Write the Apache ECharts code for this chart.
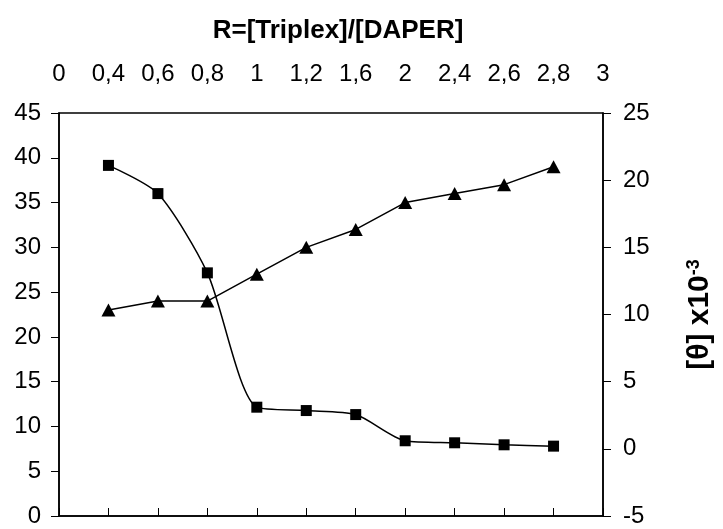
<!DOCTYPE html>
<html>
<head>
<meta charset="utf-8">
<script src="https://cdn.jsdelivr.net/npm/echarts@6/dist/echarts.min.js"></script>
<style>
html,body{margin:0;padding:0;background:#fff;}
#chart{width:723px;height:529px;}
</style>
</head>
<body>
<div id="chart"></div>
<script>
// Category labels of the top axis (ratio R)
const categories = ['0', '0,4', '0,6', '0,8', '1', '1,2', '1,6', '2', '2,4', '2,6', '2,8', '3'];
// Triangle series (left axis)
const triangleValues = [null, 23, 24, 24, 27, 30, 32, 35, 36, 37, 39, null];
// Square series (right axis, [θ] x10^-3)
const squareValues = [null, 21.1, 19.0, 13.1, 3.1, 2.85, 2.55, 0.6, 0.45, 0.3, 0.2, null];

const FONT = "'Liberation Sans', Arial, sans-serif";
const chart = echarts.init(document.getElementById('chart'), null, {renderer: 'canvas'});

const axisLineStyle = {color: '#000', width: 1.5};

chart.setOption({
  animation: false,
  backgroundColor: '#fff',
  title: {
    text: 'R=[Triplex]/[DAPER]',
    left: 333,
    textAlign: 'center',
    top: 13,
    textStyle: {fontFamily: FONT, fontWeight: 'bold', fontSize: 26, color: '#000'}
  },
  grid: {
    left: 59, right: 115, top: 113, bottom: 13,
    show: true, borderColor: '#000', borderWidth: 1.5, backgroundColor: 'transparent'
  },
  xAxis: {
    type: 'category',
    position: 'top',
    boundaryGap: false,
    data: categories,
    axisLine: {lineStyle: axisLineStyle},
    axisTick: {show: true, length: 8, lineStyle: {color: '#000', width: 1}, interval: 0},
    axisLabel: {fontFamily: FONT, fontSize: 24, color: '#000', margin: 27, interval: 0},
    splitLine: {show: false}
  },
  yAxis: [
    {
      type: 'value',
      position: 'left',
      min: 0, max: 45, interval: 5,
      axisLine: {show: true, lineStyle: axisLineStyle},
      axisTick: {show: true, length: 8, lineStyle: {color: '#000', width: 1}},
      axisLabel: {fontFamily: FONT, fontSize: 24, color: '#000', margin: 18},
      splitLine: {show: false}
    },
    {
      type: 'value',
      position: 'right',
      min: -5, max: 25, interval: 5,
      axisLine: {show: true, lineStyle: axisLineStyle},
      axisTick: {show: true, length: 8, lineStyle: {color: '#000', width: 1}},
      axisLabel: {fontFamily: FONT, fontSize: 24, color: '#000', margin: 20},
      splitLine: {show: false},
      name: '{b|[θ] x10}{s|-3}',
      nameLocation: 'middle',
      nameRotate: 90,
      nameGap: 82,
      nameTextStyle: {
        fontFamily: FONT, color: '#000',
        rich: {
          b: {fontFamily: FONT, fontWeight: 'bold', fontSize: 30, color: '#000'},
          s: {fontFamily: FONT, fontWeight: 'bold', fontSize: 18, color: '#000', verticalAlign: 'top'}
        }
      }
    }
  ],
  series: [
    {
      type: 'line',
      yAxisIndex: 0,
      data: triangleValues,
      symbol: 'triangle',
      symbolSize: [14, 13],
      showAllSymbol: true,
      lineStyle: {color: '#000', width: 1.5},
      itemStyle: {color: '#000'}
    },
    {
      type: 'line',
      yAxisIndex: 1,
      data: squareValues,
      smooth: 0.25,
      symbol: 'rect',
      symbolSize: 11,
      showAllSymbol: true,
      lineStyle: {color: '#000', width: 1.5},
      itemStyle: {color: '#000'}
    }
  ]
});
</script>
</body>
</html>
